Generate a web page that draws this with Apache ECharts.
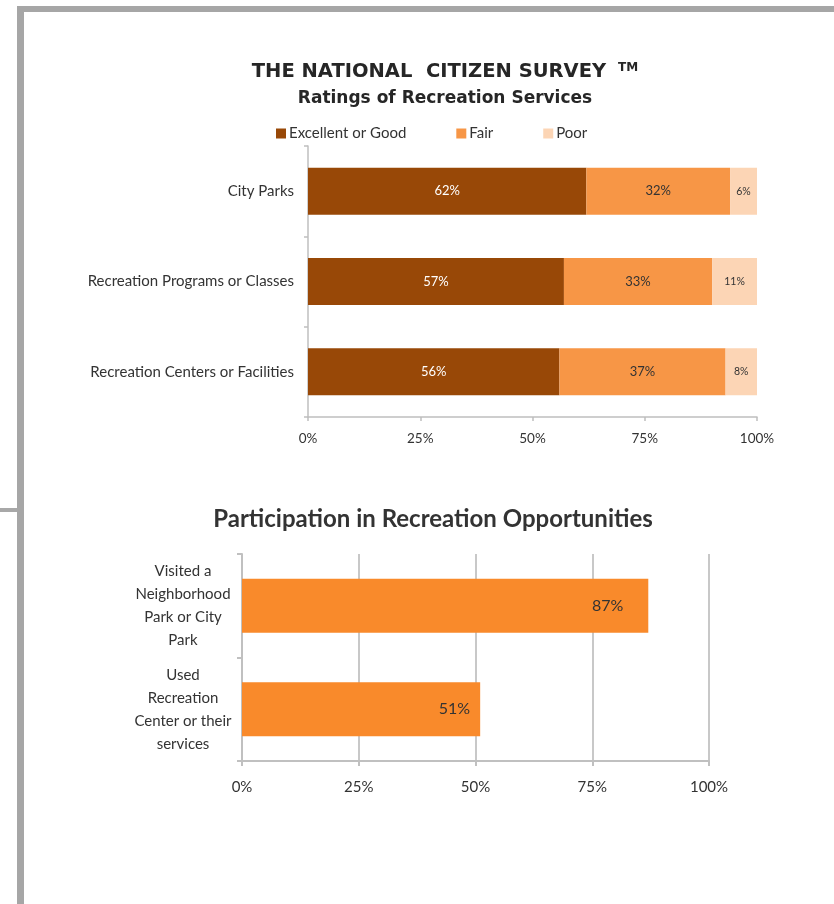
<!DOCTYPE html>
<html><head><meta charset="utf-8">
<script src="https://cdn.jsdelivr.net/npm/echarts@6/dist/echarts.min.js"></script>
<style>html,body{margin:0;padding:0;background:#fff}#c{width:834px;height:904px}</style>
</head><body><div id="c"></div>
<script>
// Top chart: Ratings of Recreation Services
const ratingCategories = ['City Parks', 'Recreation Programs or Classes', 'Recreation Centers or Facilities'];
const excellentGood = [62, 57, 56];
const fair = [32, 33, 37];
const poor = [6, 11, 8];
const ratingSeriesNames = ['Excellent or Good', 'Fair', 'Poor'];
// Bottom chart: Participation
const partCategories = ['Visited a\nNeighborhood\nPark or City\nPark', 'Used\nRecreation\nCenter or their\nservices'];
const partValues = [87, 51];
const xTickLabels = ['0%', '25%', '50%', '75%', '100%'];

const FONT = 'Lato, "Open Sans", sans-serif';
const chart = echarts.init(document.getElementById('c'), null, {renderer: 'canvas'});
const pctFmt = v => xTickLabels[Math.round(v / 25)] || (v + '%');
const partLabelDist = [25, 10];

chart.setOption({
  animation: false,
  textStyle: {fontFamily: FONT},
  graphic: [
    {type: 'rect', shape: {x: 17, y: 6, width: 817, height: 6}, style: {fill: '#a6a6a6'}},
    {type: 'rect', shape: {x: 17, y: 6, width: 7, height: 898}, style: {fill: '#a6a6a6'}},
    {type: 'rect', shape: {x: 0, y: 508, width: 17, height: 4}, style: {fill: '#a8a8a8'}}
  ],
  title: [
    {text: '{a|THE NATIONAL  CITIZEN SURVEY}{tm|TM}', left: 440, textAlign: 'center', top: 57,
     textStyle: {rich: {
       a: {fontFamily: '"DejaVu Sans", Verdana, sans-serif', fontWeight: 'bold', fontSize: 19.5, color: '#262626'},
       tm: {fontFamily: '"DejaVu Sans", Verdana, sans-serif', fontWeight: 'bold', fontSize: 12, color: '#262626', padding: [0, 0, 8, 12]}
     }}},
    {text: 'Ratings of Recreation Services', left: 440, textAlign: 'center', top: 85,
     textStyle: {fontFamily: '"DejaVu Sans", Verdana, sans-serif', fontWeight: 'bold', fontSize: 17, color: '#262626'}},
    {text: 'Participation in Recreation Opportunities', left: 428, textAlign: 'center', top: 502,
     textStyle: {fontFamily: FONT, fontWeight: 'bold', fontSize: 24, color: '#333'}}
  ],
  legend: {
    left: 276, top: 126, padding: 0, itemWidth: 10, itemHeight: 10, itemGap: 50, icon: 'rect',
    data: ratingSeriesNames,
    textStyle: {fontFamily: FONT, fontSize: 15, color: '#333', padding: [0, 0, 0, -2]}
  },
  grid: [
    {left: 308, width: 449, top: 146, height: 271, containLabel: false},
    {left: 242, width: 467, top: 554, height: 207, containLabel: false}
  ],
  xAxis: [
    {gridIndex: 0, type: 'value', min: 0, max: 100, interval: 25,
     axisLine: {show: true, lineStyle: {color: '#bfbfbf', width: 1.5}},
     axisTick: {show: true, length: 4, lineStyle: {color: '#bfbfbf', width: 1.5}},
     splitLine: {show: false},
     axisLabel: {formatter: pctFmt, fontFamily: FONT, fontSize: 13.5, color: '#333', margin: 15}},
    {gridIndex: 1, type: 'value', min: 0, max: 100, interval: 25,
     axisLine: {show: true, lineStyle: {color: '#c0c0c0', width: 2}},
     axisTick: {show: true, length: 5, lineStyle: {color: '#c0c0c0', width: 2}},
     splitLine: {show: true, lineStyle: {color: '#c8c8c8', width: 2}},
     axisLabel: {formatter: pctFmt, fontFamily: FONT, fontSize: 15, color: '#333', margin: 19}}
  ],
  yAxis: [
    {gridIndex: 0, type: 'category', inverse: true, data: ratingCategories,
     axisLine: {show: true, lineStyle: {color: '#bfbfbf', width: 1.5}},
     axisTick: {show: true, length: 4, lineStyle: {color: '#bfbfbf', width: 1.5}},
     axisLabel: {fontFamily: FONT, fontSize: 15, color: '#333', margin: 14, padding: [0, 0, 5, 0]}},
    {gridIndex: 1, type: 'category', inverse: true, data: partCategories,
     axisLine: {show: true, lineStyle: {color: '#c0c0c0', width: 2}},
     axisTick: {show: true, length: 5, lineStyle: {color: '#c0c0c0', width: 2}},
     axisLabel: {fontFamily: FONT, fontSize: 15, color: '#333', margin: 59, align: 'center', lineHeight: 23, padding: [8, 0, 0, 0]}}
  ],
  series: [
    {name: ratingSeriesNames[0], type: 'bar', stack: 'r', xAxisIndex: 0, yAxisIndex: 0, barWidth: 47,
     data: excellentGood, itemStyle: {color: '#984807'},
     label: {show: true, position: 'inside', formatter: '{c}%', color: '#fff', fontSize: 13, fontFamily: FONT}},
    {name: ratingSeriesNames[1], type: 'bar', stack: 'r', xAxisIndex: 0, yAxisIndex: 0, barWidth: 47,
     data: fair, itemStyle: {color: '#f79646'},
     label: {show: true, position: 'inside', formatter: '{c}%', color: '#333', fontSize: 13, fontFamily: FONT}},
    {name: ratingSeriesNames[2], type: 'bar', stack: 'r', xAxisIndex: 0, yAxisIndex: 0, barWidth: 47,
     data: poor, itemStyle: {color: '#fcd5b5'},
     label: {show: true, position: 'inside', formatter: '{c}%', color: '#333', fontSize: 10.5, fontFamily: FONT}},
    {name: 'Participation', type: 'bar', xAxisIndex: 1, yAxisIndex: 1, barWidth: 54,
     data: partValues.map((v, i) => ({value: v, label: {distance: partLabelDist[i]}})),
     itemStyle: {color: '#f98a2b'},
     label: {show: true, position: 'insideRight', formatter: '{c}%', color: '#333', fontSize: 16, fontFamily: FONT}}
  ]
});
</script></body></html>
